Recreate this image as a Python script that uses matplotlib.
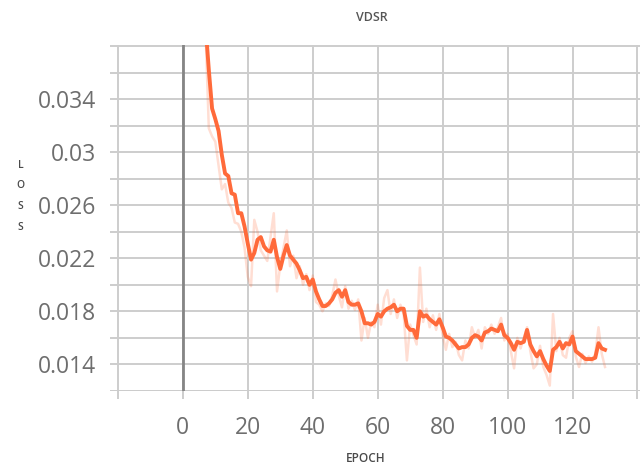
import matplotlib.pyplot as plt
import numpy as np

# training loss per epoch (smoothed curve and raw values)
epochs = np.arange(7, 131)
loss_smooth = [
    0.0395, 0.0362, 0.0333, 0.0325, 0.0316, 0.0298, 0.0284, 0.0282, 0.0269, 0.0268,
    0.0254, 0.0254, 0.0244, 0.0231, 0.0219, 0.0224, 0.0234, 0.0236, 0.0229, 0.0226,
    0.0225, 0.0234, 0.0221, 0.0212, 0.0222, 0.0230, 0.0222, 0.0219, 0.0216, 0.0211,
    0.0205, 0.0206, 0.0200, 0.0204, 0.0195, 0.0189, 0.0184, 0.0184, 0.0186, 0.0189,
    0.0194, 0.0196, 0.0191, 0.0196, 0.0187, 0.0185, 0.0185, 0.0186, 0.0180, 0.0171,
    0.0171, 0.0170, 0.0172, 0.0178, 0.0176, 0.0180, 0.0182, 0.0183, 0.0185, 0.0180,
    0.0182, 0.0182, 0.0169, 0.0166, 0.0166, 0.0160, 0.0180, 0.0176, 0.0177, 0.0174,
    0.0172, 0.0170, 0.0174, 0.0168, 0.0161, 0.0160, 0.0158, 0.0155, 0.0152, 0.0153,
    0.0153, 0.0155, 0.0160, 0.0162, 0.0161, 0.0158, 0.0164, 0.0165, 0.0167, 0.0166,
    0.0165, 0.0170, 0.0162, 0.0160, 0.0156, 0.0151, 0.0157, 0.0156, 0.0157, 0.0166,
    0.0155, 0.0150, 0.0146, 0.0150, 0.0144, 0.0139, 0.0135, 0.0151, 0.0153, 0.0157,
    0.0152, 0.0156, 0.0155, 0.0161, 0.0150, 0.0148, 0.0146, 0.0144, 0.0144, 0.0144,
    0.0145, 0.0156, 0.0152, 0.0151,
]
loss_raw = [
    0.0390, 0.0318, 0.0312, 0.0308, 0.0290, 0.0272, 0.0276, 0.0262, 0.0258, 0.0247,
    0.0246, 0.0240, 0.0228, 0.0206, 0.0199, 0.0249, 0.0240, 0.0226, 0.0222, 0.0218,
    0.0236, 0.0254, 0.0195, 0.0215, 0.0228, 0.0241, 0.0214, 0.0222, 0.0205, 0.0214,
    0.0200, 0.0208, 0.0196, 0.0207, 0.0187, 0.0185, 0.0180, 0.0186, 0.0184, 0.0192,
    0.0204, 0.0192, 0.0183, 0.0199, 0.0182, 0.0188, 0.0181, 0.0189, 0.0158, 0.0175,
    0.0160, 0.0172, 0.0168, 0.0185, 0.0170, 0.0190, 0.0196, 0.0178, 0.0189, 0.0175,
    0.0185, 0.0178, 0.0143, 0.0170, 0.0162, 0.0155, 0.0213, 0.0172, 0.0182, 0.0168,
    0.0177, 0.0166, 0.0178, 0.0162, 0.0151, 0.0163, 0.0153, 0.0157, 0.0147, 0.0143,
    0.0158, 0.0152, 0.0168, 0.0160, 0.0166, 0.0152, 0.0168, 0.0163, 0.0170, 0.0163,
    0.0168, 0.0175, 0.0158, 0.0163, 0.0150, 0.0137, 0.0160, 0.0152, 0.0160, 0.0168,
    0.0150, 0.0137, 0.0140, 0.0154, 0.0138, 0.0132, 0.0124, 0.0178, 0.0150, 0.0160,
    0.0147, 0.0145, 0.0160, 0.0165, 0.0146, 0.0138, 0.0148, 0.0141, 0.0146, 0.0142,
    0.0148, 0.0168, 0.0148, 0.0138,
]
x_ticks = [-20, 0, 20, 40, 60, 80, 100, 120, 140]
x_labels = ['', '0', '20', '40', '60', '80', '100', '120', '']
y_ticks = [0.014, 0.018, 0.022, 0.026, 0.03, 0.034]
y_labels = ['0.014', '0.018', '0.022', '0.026', '0.03', '0.034']

plt.rcParams['font.family'] = ['Open Sans', 'DejaVu Sans']

fig = plt.figure(figsize=(6.42, 4.67), dpi=100)
ax = fig.add_axes([0.171, 0.163, 0.826, 0.741])

line_color = '#ff6a3a'
ax.plot(epochs, loss_raw, color=line_color, alpha=0.22, lw=1.8, zorder=3)
ax.plot(epochs, loss_smooth, color=line_color, lw=2.8, zorder=4)

ax.set_xlim(-22.5, 140.8)
ax.set_ylim(0.012, 0.0381)

ax.set_xticks(x_ticks)
ax.set_xticklabels(x_labels)
ax.set_yticks(y_ticks)
ax.set_yticklabels(y_labels)
ax.set_yticks(np.arange(0.012, 0.0381, 0.002), minor=True)

ax.grid(True, which='both', color='#cdcdcd', lw=1.4, zorder=0)
ax.axvline(0, color='#858585', lw=2.0, zorder=2)
ax.axhline(0.012, color='#c4c4c4', lw=1.4, zorder=1)

for s in ax.spines.values():
    s.set_visible(False)

ax.tick_params(axis='x', length=6, width=1.4, color='#cdcdcd', pad=12,
               labelsize=16.5, labelcolor='#6e6e6e')
ax.tick_params(axis='y', which='both', length=0, pad=10,
               labelsize=16.5, labelcolor='#6e6e6e')

fig.text(0.579, 0.962, 'VDSR', ha='center', va='center', fontsize=9,
         fontweight='semibold', color='#555555')
fig.text(0.570, 0.019, 'EPOCH', ha='center', va='center', fontsize=8.5,
         fontweight='semibold', color='#4a4a4a')
fig.text(0.032, 0.58, 'L\nO\nS\nS', ha='center', va='center', fontsize=7.5,
         fontweight='semibold', color='#4a4a4a', linespacing=2.2)

fig.savefig('out.png', dpi=100)
